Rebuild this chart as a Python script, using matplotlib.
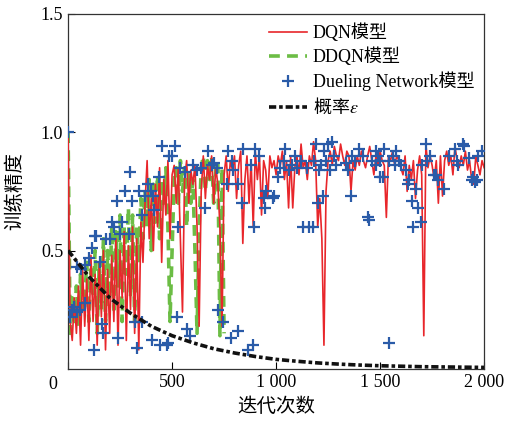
import numpy as np
import matplotlib
matplotlib.use('Agg')
import matplotlib.pyplot as plt

plt.rcParams['font.family'] = ['Liberation Serif', 'Noto Sans CJK SC', 'DejaVu Sans']
plt.rcParams['mathtext.fontset'] = 'stix'

# DQN accuracy, one value every 10 iterations from 0 to 2000
dqn_x = np.arange(0, 2001, 10)
dqn_acc = [
    1.0, 0.2, 0.12, 0.3, 0.15, 0.35, 0.1, 0.42, 0.18, 0.38, 0.12,
    0.48, 0.2, 0.4, 0.1, 0.45, 0.22, 0.5, 0.08, 0.42, 0.15,
    0.48, 0.2, 0.55, 0.1, 0.5, 0.3, 0.58, 0.12, 0.52, 0.25,
    0.6, 0.15, 0.55, 0.08, 0.62, 0.45, 0.7, 0.88, 0.55, 0.72,
    0.5, 0.78, 0.6, 0.85, 0.45, 0.8, 0.65, 0.88, 0.55, 0.82,
    0.86, 0.7, 0.85, 0.55, 0.24, 0.8, 0.88, 0.7, 0.84, 0.78,
    0.86, 0.6, 0.18, 0.75, 0.9, 0.72, 0.86, 0.8, 0.9, 0.7,
    0.85, 0.78, 0.6, 0.18, 0.82, 0.9, 0.75, 0.88, 0.84, 0.9,
    0.72, 0.86, 0.92, 0.53, 0.8, 0.9, 0.7, 0.88, 0.6, 0.92,
    0.8, 0.9, 0.65, 0.88, 0.84, 0.72, 0.9, 0.85, 0.88, 0.82,
    0.9, 0.86, 0.92, 0.8, 0.88, 0.68, 0.9, 0.68, 0.85, 0.9,
    0.82, 0.95, 0.85, 0.88, 0.8, 0.9, 0.86, 0.96, 0.88, 0.6,
    0.72, 0.55, 0.1, 0.75, 0.88, 0.92, 0.86, 0.94, 0.9, 0.88,
    0.95, 0.9, 0.86, 0.92, 0.9, 0.75, 0.88, 0.84, 0.9, 0.86,
    0.92, 0.88, 0.85, 0.9, 0.94, 0.88, 0.82, 0.9, 0.86, 0.92,
    0.88, 0.86, 0.64, 0.9, 0.88, 0.92, 0.86, 0.9, 0.88, 0.85,
    0.82, 0.9, 0.75, 0.86, 0.8, 0.88, 0.72, 0.84, 0.9, 0.82,
    0.14, 0.95, 0.85, 0.9, 0.86, 0.8, 0.88, 0.7, 0.9, 0.73,
    0.88, 0.92, 0.86, 0.9, 0.82, 0.94, 0.88, 0.85, 0.9, 0.86,
    0.92, 0.84, 0.88, 0.8, 0.78, 0.9, 0.86, 0.82, 0.88, 0.85,
]

# DDQN accuracy, every 10 iterations, stops at 750
ddqn_x = np.arange(0, 751, 10)
ddqn_acc = [
    1.0, 0.15, 0.3, 0.2, 0.35, 0.18, 0.4, 0.25, 0.3, 0.45, 0.2,
    0.42, 0.3, 0.5, 0.15, 0.45, 0.25, 0.55, 0.2, 0.5, 0.3,
    0.6, 0.25, 0.58, 0.35, 0.65, 0.2, 0.6, 0.4, 0.68, 0.3,
    0.65, 0.2, 0.6, 0.45, 0.72, 0.55, 0.75, 0.6, 0.8, 0.5,
    0.78, 0.62, 0.82, 0.55, 0.8, 0.7, 0.85, 0.6, 0.2, 0.5,
    0.8, 0.85, 0.7, 0.88, 0.75, 0.85, 0.6, 0.82, 0.7, 0.8,
    0.5, 0.15, 0.6, 0.85, 0.9, 0.75, 0.88, 0.8, 0.9, 0.7,
    0.85, 0.88, 0.14, 0.85, 0.15,
]

# Dueling Network points (iteration, accuracy)
duel_x = [0, 10, 20, 30, 45, 58, 43, 60, 80, 82, 101, 116, 125, 130, 135, 154,
          165, 180, 170, 200, 212, 220, 236, 240, 250, 260, 275, 294, 299, 308,
          320, 333, 342, 357, 357, 370, 385, 400, 410, 414, 438, 453, 405, 440, 477,
          482, 485, 500, 516, 525, 530, 540, 560, 573, 588, 600, 620, 640, 660,
          675, 690, 700, 718, 723, 747, 766, 770, 781, 790, 795, 815, 819, 838,
          843, 863, 880, 887, 892, 900, 920, 940, 945, 950, 987,
          990, 1007, 1020, 1036, 1045, 1060, 1075, 1090, 1100, 1118, 1127, 1150,
          1160, 1176, 1180, 1190, 1200, 1205, 1215, 1224, 1230, 1240, 1250, 1260,
          1270, 1280, 1290, 1335, 1345, 1359, 1365, 1380, 1400, 1420, 1441, 1445,
          1460, 1480, 1500, 1480, 1490, 1500, 1513, 1520, 1542, 1545, 1560, 1570,
          1575, 1590, 1600, 1625, 1634, 1640, 1653, 1658, 1672, 1682, 1696, 1700,
          1720, 1725, 1740, 1760, 1770, 1780, 1807, 1830, 1860, 1870, 1875, 1900,
          1905, 1925, 1940, 1945, 1955, 1965, 1970, 1990]
duel_acc = [1.0, 0.22, 0.25, 0.26, 0.24, 0.25, 0.43, 0.42, 0.44, 0.28, 0.47, 0.51,
            0.08, 0.56, 0.56, 0.45, 0.19, 0.55, 0.15, 0.55, 0.62, 0.6, 0.71, 0.13,
            0.57, 0.62, 0.75, 0.57, 0.83, 0.71, 0.2, 0.09, 0.75, 0.65, 0.2, 0.73,
            0.78, 0.75, 0.73, 0.67, 0.81, 0.94, 0.12, 0.1, 0.1,
            0.11, 0.9, 0.9, 0.94, 0.22, 0.6, 0.85, 0.83, 0.17, 0.14, 0.86, 0.84,
            0.85, 0.68, 0.92, 0.86, 0.87, 0.85, 0.25, 0.2, 0.78, 0.92, 0.13, 0.88,
            0.84, 0.78, 0.16, 0.7, 0.93, 0.08, 0.86, 0.1, 0.6, 0.93, 0.9, 0.72,
            0.68, 0.75, 0.72,
            0.73, 0.81, 0.85, 0.88, 0.93, 0.84, 0.86, 0.9, 0.85, 0.88, 0.6, 0.85,
            0.6, 0.6, 0.88, 0.95, 0.7, 0.84, 0.86, 0.73, 0.92, 0.88, 0.95, 0.84,
            0.96, 0.9, 0.86, 0.87, 0.84, 0.73, 0.9, 0.88, 0.93, 0.9, 0.64, 0.63,
            0.88, 0.92, 0.81, 0.86, 0.9, 0.88, 0.81, 0.93, 0.11, 0.88, 0.9, 0.86,
            0.92, 0.88, 0.86, 0.84, 0.78, 0.8, 0.71, 0.6, 0.76, 0.68, 0.62, 0.86,
            0.95, 0.88, 0.9, 0.82, 0.82, 0.8, 0.76, 0.9, 0.93, 0.88, 0.86, 0.95,
            0.94, 0.89, 0.8, 0.81, 0.79, 0.8, 0.9, 0.92]

# exploration probability epsilon
eps_x = np.arange(0, 2001, 100)
eps_val = [0.5, 0.39, 0.30, 0.235, 0.18, 0.14, 0.11, 0.085, 0.067, 0.052, 0.04,
           0.032, 0.025, 0.02, 0.016, 0.013, 0.011, 0.009, 0.008, 0.007, 0.006]

fig = plt.figure(figsize=(5.08, 4.22), dpi=100)
ax = fig.add_axes([0.134, 0.126, 0.819, 0.841])

ax.plot(dqn_x, dqn_acc, color='#e8262b', lw=1.2, label='DQN模型', zorder=3)
ax.plot(ddqn_x, ddqn_acc, color='#6cbd45', lw=2.6, ls=(0, (3, 2)),
        label='DDQN模型', zorder=2)
ax.plot(duel_x, duel_acc, ls='none', marker='+', ms=9, mew=1.6,
        color='#2a5ba8', label='Dueling Network模型', zorder=4)
ax.plot(eps_x, eps_val, color='#111111', lw=2.6, ls=(0, (2, 0.8, 1, 0.8)),
        label='概率$\\varepsilon$', zorder=5)

ax.set_xlim(0, 2000)
ax.set_ylim(0, 1.5)
ax.set_xticks([0, 500, 1000, 1500, 2000])
ax.set_xticklabels(['', '500', '1 000', '1 500', '2 000'])
ax.set_yticks([0.5, 1.0, 1.5])
ax.set_yticklabels(['0.5', '1.0', '1.5'])
ax.tick_params(direction='in', labelsize=13, length=5, width=0.8)
ax.text(-0.025, -0.02, '0', transform=ax.transAxes, ha='right', va='top',
        fontsize=13)
for s in ax.spines.values():
    s.set_linewidth(0.9)
    s.set_color('#333333')

ax.set_xlabel('迭代次数', fontsize=14, labelpad=5)
ax.set_ylabel('训练精度', fontsize=14, labelpad=12)

leg = ax.legend(loc='upper right', bbox_to_anchor=(1.0, 1.0), fontsize=13,
                borderaxespad=0, handlelength=2.1, handletextpad=0.3,
                labelspacing=0.3, frameon=False, borderpad=0.55)
# mathtext label needs a CJK font for its plain part
leg.get_texts()[3].set_fontfamily('Noto Sans CJK SC')

fig.savefig('out.png', dpi=100)
